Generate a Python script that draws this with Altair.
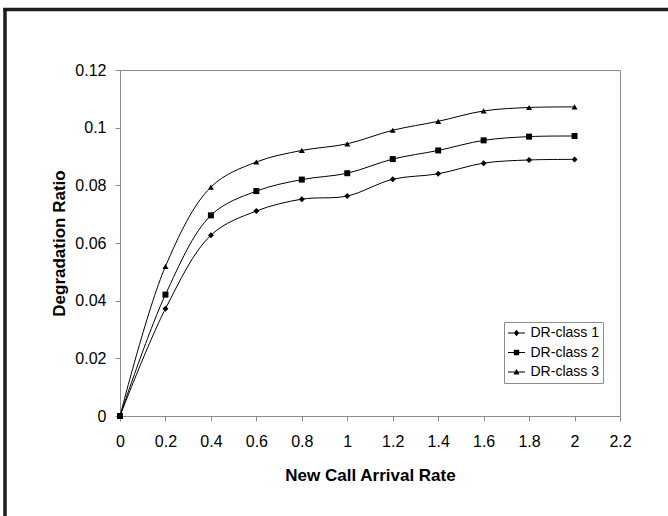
import altair as alt
import pandas as pd

# ---- data ----
rates = [0, 0.2, 0.4, 0.6, 0.8, 1.0, 1.2, 1.4, 1.6, 1.8, 2.0]
dr_class1 = [0, 0.0372, 0.0627, 0.0711, 0.0752, 0.0763, 0.0821, 0.0840, 0.0877, 0.0888, 0.0890]
dr_class2 = [0, 0.0421, 0.0696, 0.0780, 0.0820, 0.0842, 0.0891, 0.0921, 0.0956, 0.0969, 0.0971]
dr_class3 = [0, 0.0519, 0.0794, 0.0881, 0.0921, 0.0944, 0.0991, 0.1022, 0.1058, 0.1070, 0.1072]
series_names = ["DR-class 1", "DR-class 2", "DR-class 3"]
x_ticks = [0, 0.2, 0.4, 0.6, 0.8, 1.0, 1.2, 1.4, 1.6, 1.8, 2.0, 2.2]
y_ticks = [0, 0.02, 0.04, 0.06, 0.08, 0.10, 0.12]

rows = []
for name, vals in zip(series_names, [dr_class1, dr_class2, dr_class3]):
    for xv, yv in zip(rates, vals):
        rows.append({"rate": xv, "ratio": yv, "series": name})
df = pd.DataFrame(rows)

FONT = "Liberation Sans"
GRAY = "#8c8c8c"

x_enc = alt.X("rate:Q", scale=alt.Scale(domain=[0, 2.2], nice=False),
              axis=alt.Axis(values=x_ticks, format=".1~f", title="New Call Arrival Rate",
                            grid=False, tickSize=5, labelPadding=12, titlePadding=18,
                            labelFontSize=16, titleFontSize=17, labelFont=FONT, titleFont=FONT,
                            titleFontWeight="bold", domainColor=GRAY, tickColor=GRAY,
                            labelColor="black", titleColor="black", labelFlush=False))
y_enc = alt.Y("ratio:Q", scale=alt.Scale(domain=[0, 0.12], nice=False),
              axis=alt.Axis(values=y_ticks, format=".2~f", title="Degradation Ratio",
                            grid=False, tickSize=5, labelPadding=9, titlePadding=6,
                            labelFontSize=16, titleFontSize=17, labelFont=FONT, titleFont=FONT,
                            titleFontWeight="bold", domainColor=GRAY, tickColor=GRAY,
                            labelColor="black", titleColor="black", labelFlush=False))

base = alt.Chart(df)

lines = base.mark_line(interpolate="catmull-rom", color="black", strokeWidth=1).encode(
    x=x_enc, y=y_enc, detail="series:N")

points = base.mark_point(filled=True, color="black", size=36, opacity=1).encode(
    x=x_enc, y=y_enc,
    shape=alt.Shape("series:N",
                    scale=alt.Scale(domain=series_names, range=["diamond", "square", "triangle-up"]),
                    legend=None))

# legend symbols: a short line with the marker on it (thin filled bar + marker)
legend_paths = [
    "M-1.42,-0.08H1.42V0.08H-1.42ZM0,-0.55L0.45,0L0,0.55L-0.45,0Z",
    "M-1.42,-0.08H1.42V0.08H-1.42ZM-0.45,-0.45H0.45V0.45H-0.45Z",
    "M-1.42,-0.08H1.42V0.08H-1.42ZM0,-0.55L0.5,0.4H-0.5Z",
]
legend_layer = base.mark_point(filled=True, color="black", size=144, clip=True).encode(
    x=alt.value(0), y=alt.value(-2000),
    shape=alt.Shape("series:N",
                    scale=alt.Scale(domain=series_names, range=legend_paths),
                    legend=alt.Legend(title=None, orient="none", legendX=384, legendY=252,
                                      strokeColor=GRAY, padding=4, rowPadding=5.5,
                                      symbolOffset=1.5, labelOffset=7, symbolSize=144,
                                      labelFont=FONT, labelFontSize=14, labelColor="black",
                                      symbolFillColor="black", symbolOpacity=1)))

one = pd.DataFrame({"k": [0]})
frame_left = alt.Chart(one).mark_rule(color="#1e1e1e", strokeWidth=3.5).encode(
    x=alt.value(-115), y=alt.value(-62), y2=alt.value(460))
frame_top = alt.Chart(one).mark_rule(color="#1e1e1e", strokeWidth=3.5).encode(
    y=alt.value(-60.5), x=alt.value(-116.75), x2=alt.value(560))

chart = alt.layer(lines, points, legend_layer, frame_left, frame_top).resolve_scale(
    shape="independent").properties(
    width=500, height=346,
    autosize=alt.AutoSizeParams(type="none"),
    padding={"left": 120, "top": 70, "right": 48, "bottom": 100},
    background="white",
).configure_view(stroke=GRAY, strokeWidth=1)

chart.save("out.html", embed_options={"renderer": "svg", "actions": False})
